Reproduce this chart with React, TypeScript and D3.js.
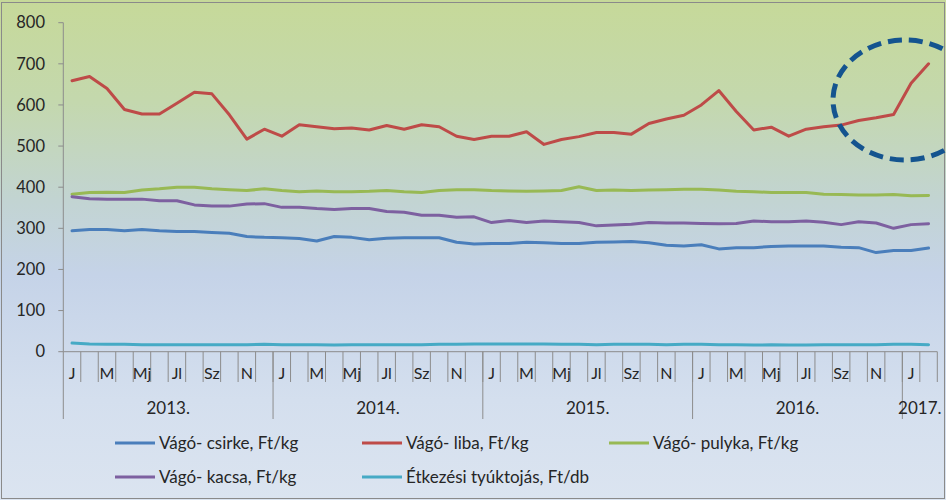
import React from "react";
import * as d3 from "d3";

const monthNames = ["J", "", "M", "", "Mj", "", "Jl", "", "Sz", "", "N", ""];
const years = ["2013.", "2014.", "2015.", "2016.", "2017."];
const monthsPerYear = [12, 12, 12, 12, 2];
const yTicks = [0, 100, 200, 300, 400, 500, 600, 700, 800];

const csirke = [294,297,297,294,297,294,292,292,290,288,280,278,277,275,269,280,278,272,276,277,277,277,266,262,263,263,266,265,263,263,266,267,268,265,259,257,260,250,253,253,256,257,257,257,254,253,241,246,246,252];
const liba = [659,669,640,589,578,578,604,631,627,576,517,541,524,552,547,542,544,539,550,541,552,547,524,516,524,524,535,504,516,523,533,533,529,555,566,575,600,635,584,539,546,524,541,547,551,562,569,577,653,700];
const pulyka = [383,387,388,387,393,396,400,400,396,394,392,396,392,389,391,389,389,390,392,389,387,392,394,394,392,391,390,391,392,401,392,393,392,393,394,395,395,393,390,389,387,387,387,383,382,381,381,382,379,380];
const kacsa = [377,372,371,371,371,367,367,357,354,354,359,360,351,351,348,346,348,348,341,339,332,332,327,328,314,319,314,318,316,314,306,308,310,314,313,313,312,311,312,318,316,316,318,315,309,316,313,300,309,311];
const tojas = [21,19,18,18,17,17,17,17,17,17,17,18,17,17,17,16,17,17,17,17,17,18,18,19,19,19,19,19,18,18,17,18,18,18,17,18,18,17,17,16,17,16,16,17,17,17,17,18,18,17];

const seriesNames = [
  "Vágó- csirke, Ft/kg",
  "Vágó- liba, Ft/kg",
  "Vágó- pulyka, Ft/kg",
  "Vágó- kacsa, Ft/kg",
  "Étkezési tyúktojás, Ft/db",
];
const seriesData = [csirke, liba, pulyka, kacsa, tojas];
const seriesColors = ["#4a7ebb", "#be4b48", "#98b954", "#7d60a0", "#46aac5"];

const FONT = "Lato, 'Open Sans', sans-serif";

export default function App() {
  const W = 946, H = 500;
  const x0 = 63.3, x1 = 937.3, yTop = 22.7, yBot = 351.7;
  const n = csirke.length;
  const idx = d3.range(n);
  const x = d3.scaleBand<number>().domain(idx).range([x0, x1]).padding(0);
  const y = d3.scaleLinear().domain([0, 800]).range([yBot, yTop]);
  const cx = (i: number) => (x(i) as number) + x.bandwidth() / 2;
  const line = d3.line<number>().x((_, i) => cx(i)).y((d) => y(d));

  const monthLabels = idx.map((i) => monthNames[i % 12]);
  let acc = 0;
  const yearBounds = monthsPerYear.map((m) => {
    const s = acc;
    acc += m;
    return [s, acc];
  });
  const bx = (k: number) => x0 + k * x.bandwidth();

  const legendPos = [
    [115, 443], [362, 443], [609, 443], [115, 477], [362, 477],
  ];

  return (
    <div style={{ position: "absolute", left: 0, top: 0 }}>
      <svg width={W} height={H} style={{ display: "block" }}>
        <defs>
          <linearGradient id="bg" x1="0" y1="0" x2="0" y2="1">
            <stop offset="0" stopColor="#c6d999" />
            <stop offset="0.2" stopColor="#c4d8ad" />
            <stop offset="0.4" stopColor="#c2d4d2" />
            <stop offset="0.55" stopColor="#c5d3e8" />
            <stop offset="0.8" stopColor="#d4dfee" />
            <stop offset="1" stopColor="#dbe4f0" />
          </linearGradient>
        </defs>
        <rect x={0} y={0} width={W} height={H} fill="url(#bg)" />
        <rect x={1.5} y={2.5} width={W - 3} height={H - 4} fill="none" stroke="#8a8a8a" strokeWidth={1} />

        {/* y axis */}
        <line x1={x0} x2={x0} y1={yTop} y2={yBot} stroke="#8c8c8c" />
        {yTicks.map((t) => (
          <g key={t}>
            <line x1={x0 - 5} x2={x0} y1={y(t)} y2={y(t)} stroke="#8c8c8c" />
            <text x={45} y={y(t)} dy="0.35em" textAnchor="end" fontFamily={FONT} fontSize={16.5} fill="#262626">
              {t}
            </text>
          </g>
        ))}

        {/* x axis */}
        <line x1={x0} x2={x1} y1={yBot} y2={yBot} stroke="#8c8c8c" />
        {d3.range(1, n + 1).map((k) => (
          <line key={k} x1={bx(k)} x2={bx(k)} y1={yBot} y2={382} stroke="#8c8c8c" />
        ))}
        {yearBounds.map(([s]) => (
          <line key={"yb" + s} x1={bx(s)} x2={bx(s)} y1={yBot} y2={419} stroke="#8c8c8c" />
        ))}
        {monthLabels.map((m, i) =>
          m ? (
            <text key={"m" + i} x={cx(i)} y={373} dy="0.35em" textAnchor="middle" fontFamily={FONT} fontSize={16} fill="#262626">
              {m}
            </text>
          ) : null
        )}
        {yearBounds.map(([s, e], k) => (
          <text key={"y" + k} x={(bx(s) + bx(e)) / 2} y={408} dy="0.35em" textAnchor="middle" fontFamily={FONT} fontSize={17} fill="#262626">
            {years[k]}
          </text>
        ))}

        {/* series */}
        {seriesData.map((d, k) => (
          <path key={k} d={line(d) as string} fill="none" stroke={seriesColors[k]} strokeWidth={3} strokeLinejoin="round" strokeLinecap="round" />
        ))}

        {/* highlight ellipse */}
        <ellipse cx={905} cy={100} rx={72} ry={60} fill="none" stroke="#14548f" strokeWidth={5} strokeDasharray="14 7" />

        {/* legend */}
        {seriesNames.map((name, k) => (
          <g key={name} transform={`translate(${legendPos[k][0]},${legendPos[k][1]})`}>
            <line x1={0} x2={40} y1={0} y2={0} stroke={seriesColors[k]} strokeWidth={3} />
            <text x={44} y={0} dy="0.35em" fontFamily={FONT} fontSize={17} fill="#262626">
              {name}
            </text>
          </g>
        ))}
      </svg>
    </div>
  );
}
